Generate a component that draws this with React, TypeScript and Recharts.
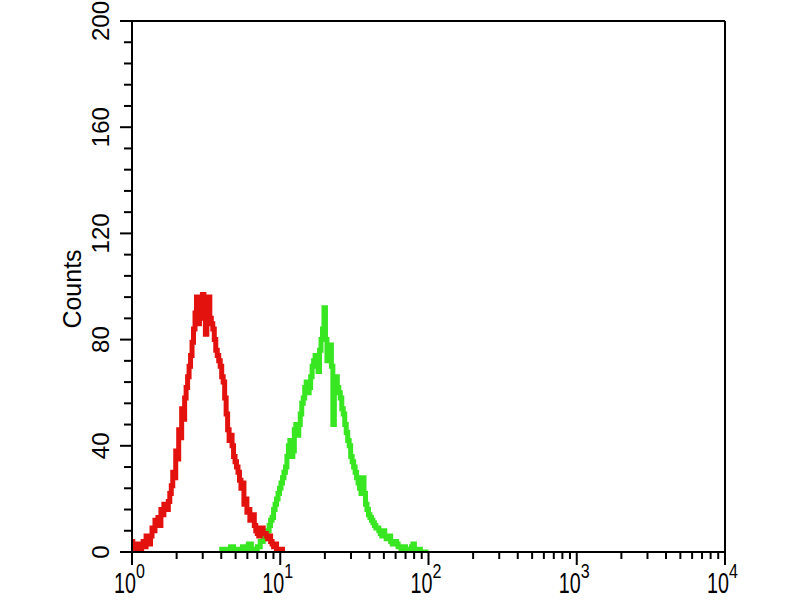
import { LineChart, Line, XAxis, YAxis, ReferenceLine } from "recharts";

// histogram channels on a log10 scale (0 = 10^0 ... 4 = 10^4)
const STEP = 0.01;
const redStart = 0.0;
const redCounts = [
  4, 2, 1, 0, 3, 1, 0, 2, 4, 2,
  6, 5, 3, 6, 9, 8, 12, 10, 13, 10,
  16, 14, 18, 17, 16, 19, 22, 25, 30, 28,
  38, 35, 46, 43, 54, 50, 58, 62, 66, 70,
  74, 79, 84, 90, 96, 86, 88, 95, 97, 90,
  82, 92, 96, 88, 86, 84, 80, 76, 74, 72,
  70, 66, 64, 58, 52, 46, 42, 44, 40, 36,
  34, 32, 30, 27, 24, 26, 18, 20, 15, 16,
  12, 14, 14, 10, 8, 7, 6, 9, 9, 7,
  7, 6, 5, 6, 4, 3, 2, 3, 1, 1,
  0, 1, 0,
];
const greenStart = 0.6;
const greenCounts = [
  0, 1, 0, 0, 0, 1, 0, 2, 2, 0,
  0, 1, 1, 0, 0, 2, 2, 1, 1, 3,
  3, 1, 1, 0, 0, 2, 2, 4, 4, 5,
  6, 7, 8, 10, 12, 13, 16, 18, 20, 22,
  24, 26, 28, 30, 32, 36, 40, 42, 36, 38,
  46, 48, 44, 48, 52, 56, 58, 62, 64, 60,
  62, 66, 70, 72, 74, 70, 68, 76, 80, 84,
  92, 80, 72, 76, 78, 70, 48, 60, 66, 62,
  60, 58, 54, 52, 48, 45, 42, 40, 36, 34,
  32, 30, 28, 26, 24, 22, 28, 22, 18, 16,
  14, 13, 12, 11, 10, 9, 9, 8, 7, 6,
  8, 6, 5, 5, 6, 4, 3, 3, 4, 3,
  2, 2, 1, 1, 2, 1, 0, 0, 1, 2,
  3, 1, 0, 0, 1, 0, 0, 0, 0, 0,
  0,
];
const yTicks = Array.from({ length: 26 }, (_, i) => i * 8);
const decades = [0, 1, 2, 3];
const xTicks = [
  ...decades.flatMap((d) => [1, 2, 3, 4, 5, 6, 7, 8, 9].map((k) => d + Math.log10(k))),
  4,
];

const toSeries = (start: number, counts: number[]) =>
  counts.map((c, i) => ({ x: +(start + i * STEP).toFixed(3), count: c }));

const redData = toSeries(redStart, redCounts);
const greenData = toSeries(greenStart, greenCounts);

const FONT = "'Liberation Sans', Arial, sans-serif";

const XTick = (props: any) => {
  const { x, y, payload } = props;
  const v = payload.value;
  const major = Math.abs(v - Math.round(v)) < 1e-6;
  return (
    <g>
      <line x1={x} x2={x} y1={y} y2={y + (major ? 13 : 7)} stroke="#000" strokeWidth={2} />
      {major && (
        <>
          <text
            transform={`translate(${x + 4},${y + 41}) scale(0.68,1)`}
            textAnchor="end"
            fontSize={29}
            fontFamily={FONT}
            fill="#000"
          >
            10
          </text>
          <text
            transform={`translate(${x + 4},${y + 26}) scale(0.8,1)`}
            textAnchor="start"
            fontSize={20}
            fontFamily={FONT}
            fill="#000"
          >
            {Math.round(v)}
          </text>
        </>
      )}
    </g>
  );
};

const YTick = (props: any) => {
  const { x, y, payload } = props;
  const v = payload.value;
  const major = v % 40 === 0;
  return (
    <g>
      <line x1={x - (major ? 12 : 8)} x2={x} y1={y} y2={y} stroke="#000" strokeWidth={2} />
      {major && (
        <text
          transform={`translate(109,${y}) rotate(-90)`}
          textAnchor="middle"
          fontSize={24}
          fontFamily={FONT}
          fill="#000"
        >
          {v}
        </text>
      )}
    </g>
  );
};

const CountsLabel = () => (
  <text
    transform="translate(81,289) rotate(-90)"
    textAnchor="middle"
    fontSize={25}
    fontFamily={FONT}
    fill="#000"
  >
    Counts
  </text>
);

export default function App() {
  return (
    <div style={{ position: "absolute", left: 0, top: 0, background: "#fff" }}>
      <LineChart width={800} height={600} margin={{ top: 21, right: 75, bottom: 0, left: 0 }}>
        <XAxis
          dataKey="x"
          type="number"
          domain={[0, 4]}
          ticks={xTicks}
          interval={0}
          height={48}
          tickSize={0}
          tickMargin={0}
          tick={<XTick />}
          axisLine={{ stroke: "#000", strokeWidth: 2 }}
          allowDataOverflow
        />
        <YAxis
          type="number"
          domain={[0, 200]}
          ticks={yTicks}
          interval={0}
          width={132}
          tickSize={0}
          tickMargin={0}
          tick={<YTick />}
          axisLine={{ stroke: "#000", strokeWidth: 2 }}
          label={<CountsLabel />}
          allowDataOverflow
        />
        <ReferenceLine y={200} stroke="#000" strokeWidth={2} />
        <ReferenceLine x={4} stroke="#000" strokeWidth={2} />
        <Line
          data={greenData}
          dataKey="count"
          type="step"
          stroke="#38e622"
          strokeWidth={5}
          dot={false}
          isAnimationActive={false}
        />
        <Line
          data={redData}
          dataKey="count"
          type="step"
          stroke="#e3120e"
          strokeWidth={5}
          dot={false}
          isAnimationActive={false}
        />
      </LineChart>
    </div>
  );
}
